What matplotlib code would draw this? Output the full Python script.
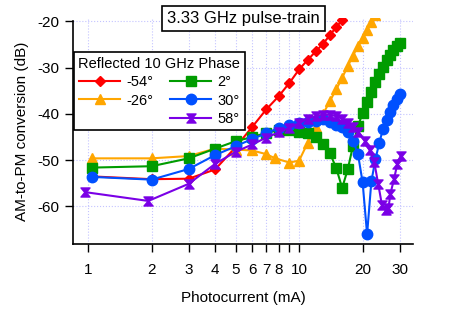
# AM-to-PM conversion vs photocurrent, 3.33 GHz pulse-train
# one curve per reflected 10 GHz phase
import matplotlib
matplotlib.use("Agg")
import matplotlib.pyplot as plt
from matplotlib.lines import Line2D
from matplotlib.path import Path
from matplotlib.ticker import FixedLocator, FixedFormatter, NullLocator

plt.rcParams["font.family"] = ["Liberation Sans", "DejaVu Sans"]
plt.rcParams["axes.unicode_minus"] = False

# photocurrent (mA) and conversion (dB) for each phase
x_m54 = [1.04, 2, 3, 4, 5, 6, 7, 8, 9, 10, 11, 12, 13, 14, 15, 16]
y_m54 = [-53.5, -54.1, -54.0, -52.0, -47.2, -42.8, -39.0, -36.2, -33.3, -30.4,
         -28.3, -26.5, -24.8, -23.0, -21.2, -19.8]

x_m26 = [1.04, 2, 3, 4, 5, 6, 7, 7.7, 9, 10, 11, 12, 13, 14, 15, 16, 17, 18,
         19, 20, 21, 22, 23]
y_m26 = [-49.6, -49.6, -49.1, -47.5, -47.7, -47.9, -48.7, -49.6, -50.5, -50.1,
         -46.2, -42.8, -40.0, -37.2, -34.7, -32.2, -29.7, -27.4, -25.4, -23.5,
         -21.8, -20.1, -18.6]

x_p2 = [1.04, 2, 3, 4, 5, 6, 7, 8, 9, 10, 11, 12, 13, 14, 15, 16, 17, 18, 19,
        20, 21, 22, 23, 24, 25, 26, 27, 28, 29, 30]
y_p2 = [-51.6, -51.3, -49.6, -47.5, -45.9, -45.0, -44.1, -43.5, -43.5, -43.8,
        -44.2, -45.0, -46.4, -48.5, -51.7, -56.0, -52.0, -46.9, -42.6, -39.9,
        -37.4, -35.2, -33.2, -31.4, -29.8, -28.4, -27.2, -26.2, -25.4, -24.7]

x_p30 = [1.04, 2, 3, 4, 5, 6, 7, 8, 9, 10, 11, 12, 13, 14, 15, 16, 17, 18, 19,
         20, 21, 22, 23, 24, 25, 26, 27, 28, 29, 30]
y_p30 = [-53.6, -54.2, -51.9, -48.9, -47.0, -45.4, -44.2, -43.0, -42.3, -42.0,
         -41.7, -41.5, -41.2, -41.7, -42.3, -42.8, -44.0, -45.8, -48.6, -54.8,
         -66.0, -54.6, -49.8, -46.2, -43.2, -41.4, -39.5, -38.0, -36.8, -35.6]

x_p58 = [0.97, 1.93, 3, 4, 5, 6, 7, 8, 9, 10, 11, 12, 13, 14, 15, 16, 17, 18,
         19, 20.5, 21.6, 22.7, 23.7, 24.7, 25.7, 26.5, 27.1, 28.2, 29.2, 30.3]
y_p58 = [-56.9, -58.8, -55.1, -50.8, -48.2, -46.6, -45.1, -44.0, -43.0, -42.0,
         -41.0, -40.5, -40.2, -40.2, -40.5, -41.0, -41.9, -42.8, -43.8, -45.8,
         -47.9, -50.4, -55.1, -59.7, -60.8, -60.4, -57.2, -54.0, -50.8, -49.0]

x_ticks = [1, 2, 3, 4, 5, 6, 7, 8, 9, 10, 20, 30]
x_tick_labels = ["1", "2", "3", "4", "5", "6", "7", "8", "", "10", "20", "30"]
y_ticks = [-60, -50, -40, -30, -20]

# hourglass marker for the 58 deg curve
hourglass = Path([(-1, 1), (1, 1), (0.15, 0), (1, -1), (-1, -1), (-0.15, 0), (-1, 1)],
                 [Path.MOVETO, Path.LINETO, Path.LINETO, Path.LINETO,
                  Path.LINETO, Path.LINETO, Path.CLOSEPOLY])

fig = plt.figure(figsize=(4.57, 3.12), dpi=100)
ax = fig.add_axes([0.160, 0.218, 0.744, 0.724])

lw = 1.5
l1, = ax.plot(x_m54, y_m54, color="#ff0000", marker="D", ms=5, lw=lw, label="-54°")
l2, = ax.plot(x_m26, y_m26, color="#ffa600", marker="^", ms=7.5, lw=lw, label="-26°")
l3, = ax.plot(x_p2, y_p2, color="#009c00", marker="s", ms=6.5, lw=lw, label="2°")
l4, = ax.plot(x_p30, y_p30, color="#0050ff", marker="o", ms=7.5, lw=lw, label="30°")
l5, = ax.plot(x_p58, y_p58, color="#7a00e6", marker=hourglass, ms=6.5, lw=lw, label="58°")

ax.set_xscale("log")
ax.set_xlim(0.85, 34.7)
ax.set_ylim(-68.1, -19.3)

# ticks only at the chosen positions
ax.xaxis.set_major_locator(FixedLocator(x_ticks))
ax.xaxis.set_major_formatter(FixedFormatter(x_tick_labels))
ax.xaxis.set_minor_locator(NullLocator())
ax.set_yticks(y_ticks)
ax.tick_params(direction="out", length=6, width=1, labelsize=11, colors="black")
ax.tick_params(axis="x", pad=8)
ax.tick_params(axis="y", pad=4)

# dotted lavender grid
for g in x_ticks:
    ax.axvline(g, color="#c4c4ff", lw=0.8, ls=":", zorder=0)
for g in y_ticks:
    ax.axhline(g, color="#c4c4ff", lw=0.8, ls=":", zorder=0)

ax.spines["top"].set_visible(False)
ax.spines["right"].set_visible(False)
ax.spines["left"].set_bounds(-68.1, -20)
for s in ["left", "bottom"]:
    ax.spines[s].set_linewidth(1.2)

ax.set_xlabel("Photocurrent (mA)", fontsize=11, labelpad=10)
ax.set_ylabel("AM-to-PM conversion (dB)", fontsize=11, labelpad=6)

# boxed title
fig.text(0.533, 0.942, "3.33 GHz pulse-train", fontsize=12, ha="center", va="center",
         bbox=dict(boxstyle="square,pad=0.3", fc="white", ec="black", lw=1.2))

# legend: 2 entries in the first column, 3 in the second
blank = Line2D([], [], ls="none", marker="none")
leg = ax.legend([l1, l2, blank, l3, l4, l5], ["-54°", "-26°", "", "2°", "30°", "58°"],
                ncol=2, loc="upper left", bbox_to_anchor=(0.162, 0.832),
                bbox_transform=fig.transFigure, borderaxespad=0,
                title="Reflected 10 GHz Phase", title_fontsize=10.5, fontsize=10.5,
                handlelength=2.8, handletextpad=0.4, columnspacing=1.2,
                labelspacing=0.3, borderpad=0.3, fancybox=False, framealpha=1,
                edgecolor="black")
leg.get_frame().set_linewidth(1.2)

fig.savefig("out.png", dpi=100)
